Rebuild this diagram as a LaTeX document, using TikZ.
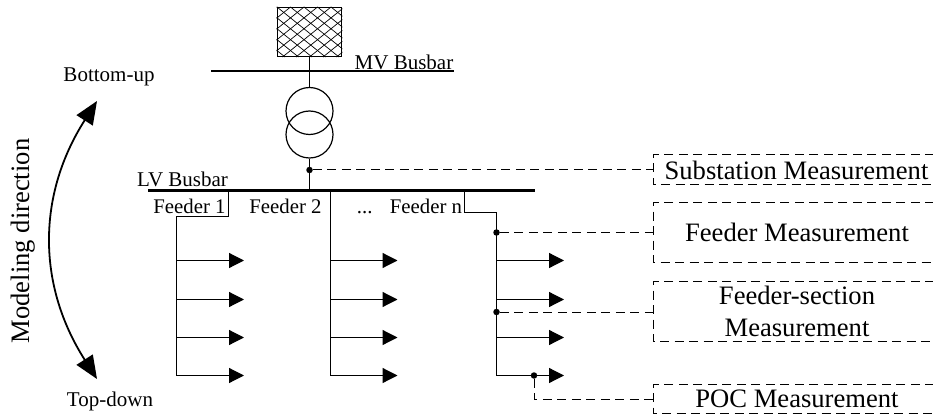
\documentclass[tikz,border=0pt]{standalone}
\usepackage{fontspec}
\setmainfont{Liberation Serif}
\usetikzlibrary{arrows.meta}
\tikzset{
  x=1pt,y=-1pt,
  wire/.style={line width=1.2pt,black},
  bus/.style={line width=2.2pt,black},
  load/.style={line width=1.2pt,-{Triangle[length=15pt,width=15pt]}},
  meas/.style={line width=1pt,dash pattern=on 9pt off 5.5pt},
  jdot/.style={circle,fill=black,inner sep=0pt,minimum size=6.5pt},
  lbl/.style={font=\fontsize{21}{25}\selectfont,inner sep=0pt},
  mlbl/.style={font=\fontsize{26.6}{32}\selectfont,inner sep=0pt,align=center},
  slbl/.style={font=\fontsize{20.8}{25}\selectfont,inner sep=0pt},
}
\begin{document}
\begin{tikzpicture}
\useasboundingbox (0,0) rectangle (933,414);
% source
\node[draw,line width=1.2pt,minimum width=64.5pt,minimum height=49.5pt,inner sep=0pt] (src) at (309.5,32) {};
\begin{scope}
\clip (src.south west) rectangle (src.north east);
\foreach \k in {-6,...,14} {
  \draw[line width=0.7pt] ({277+\k*13.5},7) -- ({277+\k*13.5+62},57);
  \draw[line width=0.7pt] ({277+\k*13.5},7) -- ({277+\k*13.5-62},57);
}
\end{scope}
\coordinate (mvl) at (211,71); \coordinate (mvr) at (454,71);
\draw[bus] (mvl) -- (mvr);
\node[draw,circle,line width=1.2pt,minimum size=47pt,inner sep=0pt] (t1) at (309.5,111) {};
\node[draw,circle,line width=1.2pt,minimum size=47pt,inner sep=0pt] (t2) at (309.5,134.5) {};
\coordinate (lvl) at (148,190.5); \coordinate (lvr) at (535,190.5);
\coordinate (lvj) at (309.5,190.5);
\draw[bus] (lvl) -- (lvr);
\draw[wire] (src.south) -- (t1.north);
\draw[wire] (t2.south) -- (lvj);
\node[jdot] (d0) at (309.5,170) {};
% feeder 1
\coordinate (f1a) at (228.5,190.5); \coordinate (f1b) at (228.5,216.5); \coordinate (f1c) at (176.5,216.5);
\coordinate (f1d) at (176.5,375.5);
\draw[wire] (f1a) -- (f1b) -- (f1c) -- (f1d);
\coordinate (f1e1) at (244,260.5); \coordinate (f1e2) at (244,299.5); \coordinate (f1e3) at (244,337.5); \coordinate (f1e4) at (244,375.5);
\draw[load] (176.5,260.5) -- (f1e1);
\draw[load] (176.5,299.5) -- (f1e2);
\draw[load] (176.5,337.5) -- (f1e3);
\draw[load] (f1d) -- (f1e4);
% feeder 2
\coordinate (f2a) at (330.5,190.5); \coordinate (f2d) at (330.5,375.5);
\draw[wire] (f2a) -- (f2d);
\coordinate (f2e1) at (397.5,260.5); \coordinate (f2e2) at (397.5,299.5); \coordinate (f2e3) at (397.5,337.5); \coordinate (f2e4) at (397.5,375.5);
\draw[load] (330.5,260.5) -- (f2e1);
\draw[load] (330.5,299.5) -- (f2e2);
\draw[load] (330.5,337.5) -- (f2e3);
\draw[load] (f2d) -- (f2e4);
% feeder n
\coordinate (fna) at (464.5,190.5); \coordinate (fnb) at (464.5,212.5); \coordinate (fnc) at (496.5,212.5);
\coordinate (fnd) at (496.5,375.5);
\draw[wire] (fna) -- (fnb) -- (fnc) -- (fnd);
\coordinate (fne1) at (564,260.5); \coordinate (fne2) at (564,299.5); \coordinate (fne3) at (564,337.5); \coordinate (fne4) at (564,375.5);
\draw[load] (496.5,260.5) -- (fne1);
\draw[load] (496.5,299.5) -- (fne2);
\draw[load] (496.5,337.5) -- (fne3);
\draw[load] (fnd) -- (fne4);
\node[jdot] (d1) at (496.5,232.5) {};
\node[jdot] (d2) at (496.5,312) {};
\node[jdot] (d3) at (534,375.5) {};
% measurement boxes
\coordinate (bs) at (653,170); \coordinate (bf) at (653,232.5); \coordinate (bx) at (653,312); \coordinate (bp) at (653,399);
\coordinate (pc) at (534,399);
\draw[meas] (d0) -- (bs);
\draw[meas] (d1) -- (bf);
\draw[meas] (d2) -- (bx);
\draw[meas] (d3) -- (pc) -- (bp);
\draw[meas] (934,154.5) -- (653,154.5) -- (653,184.5) -- (934,184.5);
\draw[meas] (934,202.5) -- (653,202.5) -- (653,262) -- (934,262);
\draw[meas] (934,281.5) -- (653,281.5) -- (653,341.5) -- (934,341.5);
\draw[meas] (934,384) -- (653,384) -- (653,413) -- (934,413);
\node[mlbl] (ms) at (796.5,170) {Substation Measurement};
\node[mlbl] (mf) at (797,232.5) {Feeder Measurement};
\node[mlbl] (mx1) at (797,295.5) {Feeder-section};
\node[mlbl] (mx2) at (797,327.5) {Measurement};
\node[mlbl] (mp) at (797,399) {POC Measurement};
% labels
\node[lbl] (mv) at (404,62) {MV Busbar};
\node[lbl] (lv) at (182.5,179) {LV Busbar};
\node[slbl] (f1) at (189.5,206.5) {Feeder 1};
\node[slbl] (f2) at (285.5,206.5) {Feeder 2};
\node[slbl] (fn) at (409.5,206.5) {...\hspace{0.5em} Feeder n};
\node[lbl] (bu) at (109,77) {Bottom-up};
\node[lbl] (td) at (110,401) {Top-down};
\node[mlbl,rotate=90] (md) at (23,241) {Modeling direction};
% double arrow
\coordinate (au) at (97,101); \coordinate (ad) at (97,379);
\draw[line width=1.8pt,{Triangle[length=23pt,width=19pt]}-{Triangle[length=23pt,width=19pt]}] (au) .. controls (37,195) and (37,285) .. (ad);
\end{tikzpicture}
\end{document}
